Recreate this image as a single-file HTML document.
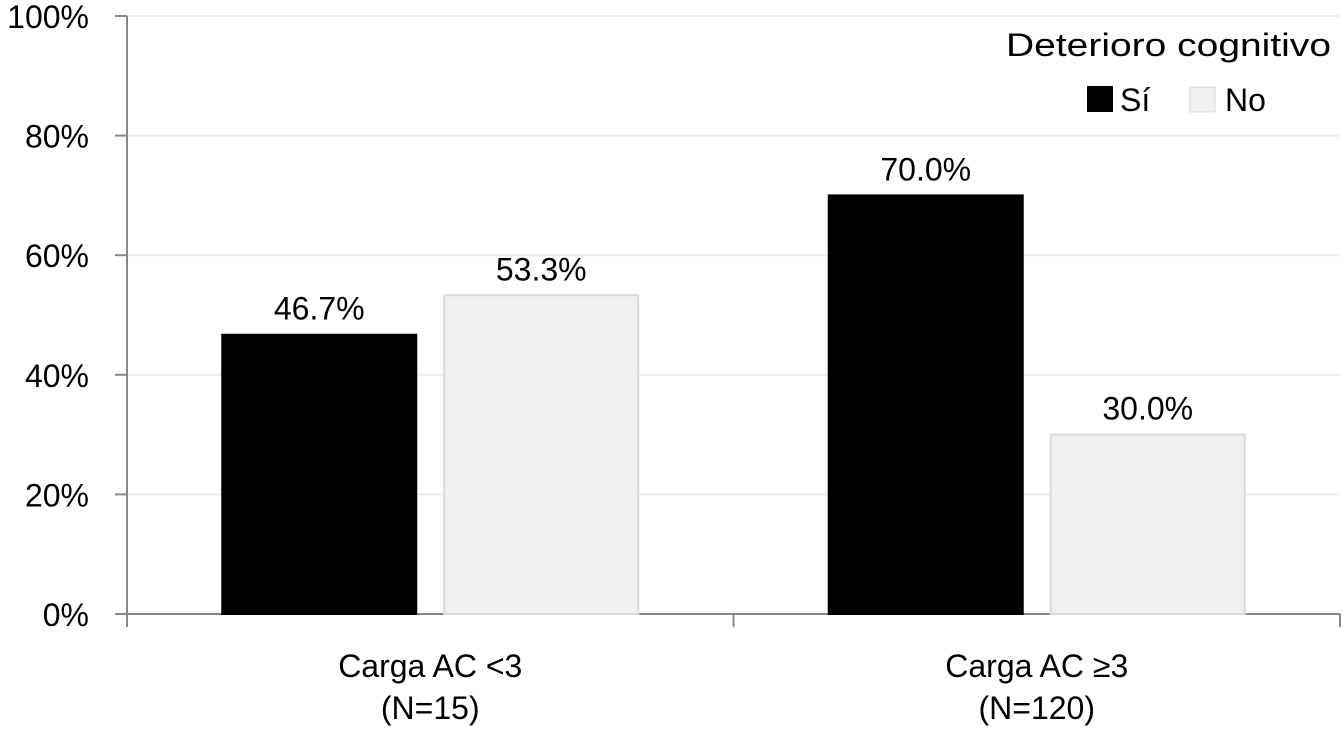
<!DOCTYPE html>
<html><head><meta charset="utf-8"><style>
body{margin:0;background:#fff}
svg{display:block;font-family:"Liberation Sans",sans-serif}
</style></head><body>
<svg width="1343" height="738" viewBox="0 0 1343 738">
<g id="grid"></g><g id="axes"></g><g id="bars"></g><g id="labels"></g>
<g>
<text x="1331" y="56" font-size="32" text-anchor="end" textLength="325" lengthAdjust="spacingAndGlyphs">Deterioro cognitivo</text>
<rect x="1087" y="86" width="26" height="26" fill="#000"/>
<text x="1120" y="111" font-size="32">Sí</text>
<rect x="1190" y="87" width="25" height="25" fill="#f0f0f0" stroke="#d9d9d9"/>
<text x="1225" y="111" font-size="32">No</text>
</g>
</svg>
<script>
const categories=[["Carga AC <3","(N=15)"],["Carga AC ≥3","(N=120)"]];
const siValues=[46.7,70.0];
const noValues=[53.3,30.0];
const yTicks=[0,20,40,60,80,100];
const NS="http://www.w3.org/2000/svg";
const x0=127,x1=1340,yB=614,yT=16;
const y=v=>yB-(yB-yT)*v/100;
const groupW=(x1-x0)/categories.length;
function mk(t,a,p){const e=document.createElementNS(NS,t);for(const k in a)e.setAttribute(k,a[k]);document.getElementById(p).appendChild(e);return e;}
yTicks.forEach(t=>{
 if(t>0){const g=mk('line',{x1:x0,x2:x1,y1:y(t),y2:y(t),stroke:'#ececec','stroke-width':2},'grid');
 
 }
 const tk=mk('line',{x1:x0-12,x2:x0,y1:y(t),y2:y(t),stroke:'#888','stroke-width':2},'axes');
 
 
 const l=mk('text',{x:x0-38,y:y(t)+12,'font-size':32,'text-anchor':'end'},'labels');
 l.textContent=t+'%';
 
 
});
const ya=mk('line',{x1:x0,x2:x0,y1:yT,y2:yB,stroke:'#888','stroke-width':2},'axes');


const xa=mk('line',{x1:x0,x2:x1,y1:yB,y2:yB,stroke:'#888','stroke-width':2},'axes');


for(let i=0;i<=categories.length;i++){const t=mk('line',{x1:x0+i*groupW,x2:x0+i*groupW,y1:yB,y2:yB+13,stroke:'#888','stroke-width':2},'axes');
 
 }
const bw=194,gap=28;
categories.forEach((c,i)=>{
 const cx=x0+groupW*(i+0.5);
 [[siValues[i],'#000','#000',cx-gap/2-bw,'bar-si'],[noValues[i],'#f0f0f0','#d9d9d9',cx+gap/2,'bar-no']].forEach(([v,f,s,bx,n])=>{
  const r=mk('rect',{x:bx,y:y(v),width:bw,height:yB-y(v),fill:f,stroke:s,'stroke-width':2},'bars');
  
  
  const t=mk('text',{x:bx+bw/2,y:y(v)-15,'font-size':32,'text-anchor':'middle'},'labels');
  t.textContent=v.toFixed(1)+'%';
  
  
 });
 c.forEach((line,j)=>{const t=mk('text',{x:cx,y:677+j*42,'font-size':32,'text-anchor':'middle'},'labels');
  t.textContent=line;
  
  });
});
</script>
</body></html>
